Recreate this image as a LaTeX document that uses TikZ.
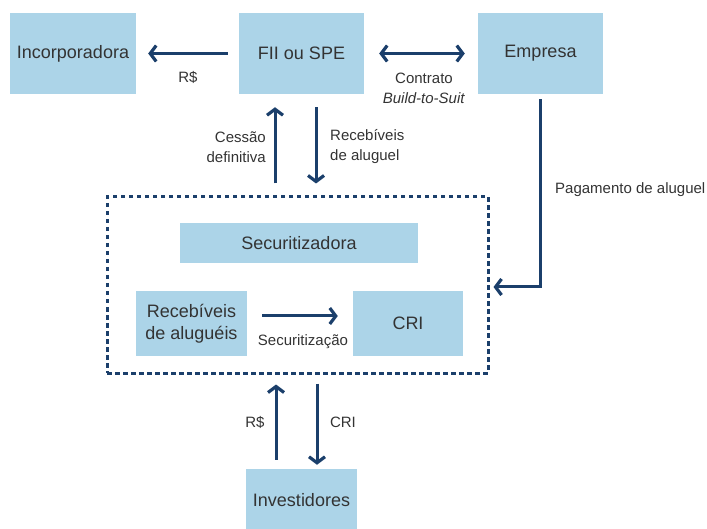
\documentclass[tikz,border=0pt]{standalone}
\usepackage{fontspec}
\setmainfont{Liberation Sans}
\usetikzlibrary{arrows.meta,calc}
\definecolor{boxblue}{HTML}{ACD4E8}
\definecolor{navy}{HTML}{1B3F6B}
\definecolor{txt}{HTML}{333333}
\tikzset{
  entity/.style={fill=boxblue,draw=none,inner sep=0pt,text=txt,align=center,
    font=\fontsize{18}{22}\selectfont},
  lbl/.style={text=txt,inner sep=0pt,font=\fontsize{15}{20}\selectfont},
  arr/.style={draw=navy,line width=3pt,-{Straight Barb[length=6pt,width=16pt,line width=3.2pt]}},
  darr/.style={draw=navy,line width=3pt,{Straight Barb[length=6pt,width=16pt,line width=3.2pt]}-{Straight Barb[length=6pt,width=16pt,line width=3.2pt]}},
  dashbox/.style={draw=navy,line width=3pt,dash pattern=on 4.5pt off 3.5pt,inner sep=0pt}
}
\begin{document}
\begin{tikzpicture}[x=1pt,y=-1pt]
\useasboundingbox (0,0) rectangle (707,529);
% boxes
\node[entity,minimum width=126pt,minimum height=81pt] (inc) at (73,53.5) {Incorporadora};
\node[entity,minimum width=125pt,minimum height=81pt] (fii) at (301.5,53.5) {FII ou SPE};
\node[entity,minimum width=125pt,minimum height=81pt] (emp) at (540.5,53.5) {Empresa};
\node[dashbox,minimum width=381pt,minimum height=176pt] (dash) at (297.5,285) {};
\node[entity,minimum width=238pt,minimum height=40pt] (sec) at (299,243) {Securitizadora};
\node[entity,minimum width=111pt,minimum height=65pt] (rec) at (191.5,323.5) {Recebíveis\\de aluguéis};
\node[entity,minimum width=110pt,minimum height=65pt] (cri) at (408,323.5) {CRI};
\node[entity,minimum width=111pt,minimum height=62pt] (inv) at (301.5,500) {Investidores};
% connectors
\draw[arr,shorten <=11pt,shorten >=12pt] (fii.west) -- (inc.east);
\draw[darr,shorten <=15pt,shorten >=13pt] (fii.east) -- (emp.east -| emp.west);
\draw[arr,shorten <=12pt,shorten >=13pt] ([xshift=-26.5pt]fii.south |- dash.north) -- ([xshift=-26.5pt]fii.south);
\draw[arr,shorten <=13pt,shorten >=12pt] ([xshift=14.5pt]fii.south) -- ([xshift=14.5pt]fii.south |- dash.north);
\draw[arr,shorten >=4pt] ([yshift=-5pt]emp.south) |- ([yshift=-2pt]dash.east);
\draw[arr,shorten <=15pt,shorten >=15pt] ([yshift=7.5pt]rec.east) -- ([yshift=7.5pt]cri.west);
\draw[arr,shorten <=9pt,shorten >=10pt] ([xshift=-25.5pt]inv.north) -- ([xshift=-25.5pt]inv.north |- dash.south);
\draw[arr,shorten <=9pt,shorten >=4pt] ([xshift=15.5pt]inv.north |- dash.south) -- ([xshift=15.5pt]inv.north);
% labels
\node[lbl] (l1) at (188,77) {R\$};
\node[lbl,align=center] (l2) at (424,88.5) {Contrato\\\textit{Build-to-Suit}};
\node[lbl,align=right,anchor=east] (l3) at (266,147) {Cessão\\definitiva};
\node[lbl,align=left,anchor=west] (l4) at (330,147) {Recebíveis\\de aluguel};
\node[lbl,anchor=west] (l5) at (555,190) {Pagamento de aluguel};
\node[lbl] (l6) at (303,342) {Securitização};
\node[lbl] (l7) at (255,422) {R\$};
\node[lbl] (l8) at (343,422) {CRI};
\end{tikzpicture}
\end{document}
